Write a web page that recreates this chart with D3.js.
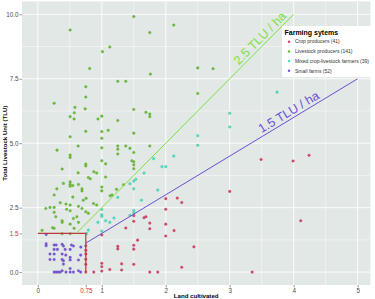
<!DOCTYPE html>
<html>
<head>
<meta charset="utf-8">
<script src="https://cdnjs.cloudflare.com/ajax/libs/d3/7.8.5/d3.min.js"></script>
<style>
    body { margin: 0; background: #fff; }
    svg { display: block; font-family: "Liberation Sans", Arial, sans-serif; }
    .tick text { fill: #4d4d4d; font-size: 6.3px; }
    .tick line { stroke: #333; stroke-width: 0.5; }
    .grid.major { stroke: #fff; stroke-width: 0.9; }
    .grid.minor { stroke: #fff; stroke-width: 0.45; }
    .title { font-weight: bold; font-size: 6.1px; fill: #000; }
    .legend text { font-size: 5px; fill: #333; }
</style>
</head>
<body>
<svg id="chart" width="375" height="299"></svg>
<script>
// farming groups, in legend order
const groups = ["Crop producers (41)", "Livestock producers (141)", "Mixed crop-livestock farmers (39)", "Small farms (52)"];
const groupColors = ["#d9466b", "#6dbf3b", "#4ee0c2", "#7b58d9"];

// land cultivated (ha), TLU
const cropProducers = [
    [3.35, 0.0], [2.25, 0.19], [2.44, 0.98], [2.13, 1.61], [2.25, 2.70], [2.18, 2.87], [3.0, 3.13],
    [3.49, 4.37], [3.99, 4.31], [4.24, 4.53], [4.11, 1.99], [2.0, 2.85], [2.0, 2.44], [1.5, 2.19],
    [1.5, 1.97], [1.66, 2.11], [1.69, 2.15], [1.75, 1.90], [1.75, 1.68], [2.0, 1.86], [2.0, 1.40],
    [1.56, 1.24], [1.5, 1.04], [1.5, 0.89], [1.5, 0.30], [1.75, 0.0], [1.875, 0.0], [1.375, 1.71],
    [1.0, 1.44], [1.25, 1.0], [1.25, 0.90], [1.31, 0.32], [1.0, 0.21], [1.0, 0.04], [1.125, 0.10],
    [1.31, 0.08], [0.875, 0.0], [1.0, 0.34], [0.75, 1.02], [0.75, 0.85], [0.75, 0.7], [0.75, 0.5],
    [0.75, 0.3], [0.75, 0.0]
];
const livestockProducers = [
    [0.505, 9.39], [1.01, 8.55], [0.81, 7.90], [0.75, 7.19], [0.75, 6.79], [0.255, 6.55], [0.58, 6.39],
    [0.57, 6.18], [0.74, 6.33], [0.505, 6.03], [0.567, 5.94], [1.0, 6.05], [0.94, 5.94], [0.75, 5.46],
    [1.0, 5.45], [1.0, 5.19], [0.505, 5.25], [0.63, 4.89], [0.3, 4.73], [1.0, 4.82],
    [1.5, 9.91], [1.75, 9.29], [2.125, 9.58], [1.125, 8.73], [1.76, 7.68], [1.25, 7.40], [1.375, 7.40],
    [1.5, 6.31], [1.69, 6.20], [1.75, 6.13], [1.75, 6.03], [1.25, 5.88], [1.1, 5.50], [1.5, 5.39],
    [1.25, 4.89], [1.25, 4.77], [1.375, 4.89], [1.44, 4.80], [1.75, 4.89],
    [2.5, 7.92], [2.74, 7.89], [2.5, 6.93],
    [1.25, 4.58], [1.5, 4.64], [1.0, 4.32], [1.06, 4.20], [1.47, 4.32], [1.5, 4.28], [1.5, 4.16],
    [1.5, 4.01], [1.06, 3.69], [1.0, 3.30], [1.0, 3.15], [1.23, 3.21], [1.34, 3.39], [1.13, 2.96], [1.16, 2.99],
    [0.505, 4.54], [0.505, 4.45], [0.75, 4.19], [0.75, 4.12], [0.38, 4.0], [0.63, 3.85], [0.875, 3.89],
    [0.92, 3.84], [0.79, 3.67], [0.82, 3.62], [0.505, 3.50], [0.505, 3.41], [0.505, 3.33], [0.547, 3.36],
    [0.4, 3.44], [0.635, 3.40], [0.69, 3.23], [0.69, 3.15], [0.297, 3.23], [0.255, 2.99], [0.547, 2.91],
    [0.71, 2.79], [0.755, 2.86], [0.35, 2.69], [0.44, 2.64], [0.505, 2.60], [0.87, 2.66], [0.92, 2.60],
    [0.635, 2.55], [0.69, 2.47], [0.125, 2.47], [0.19, 2.51], [0.255, 2.51], [0.45, 2.44], [0.505, 2.38],
    [0.255, 2.32], [0.28, 2.15], [0.75, 2.34], [0.79, 2.28], [0.61, 2.15], [0.556, 2.08], [0.38, 1.99],
    [0.38, 1.93], [0.505, 1.86], [0.635, 1.93], [0.23, 1.72], [0.255, 1.70], [0.067, 1.62], [0.567, 1.70],
    [0.38, 1.49], [0.505, 1.49]
];
const mixedFarmers = [
    [3.0, 6.16], [3.0, 5.63], [2.5, 5.29], [2.5, 4.92], [3.74, 6.98], [2.125, 4.50], [1.81, 4.40],
    [1.94, 4.09], [2.0, 4.09], [1.66, 3.84], [1.53, 3.60], [1.5, 3.53], [1.44, 3.43], [1.5, 3.23],
    [1.875, 3.18], [1.25, 2.90], [1.62, 2.79], [1.0, 2.43], [1.0, 2.22], [1.0, 2.16], [1.5, 2.39],
    [1.5, 2.29], [1.44, 2.20], [1.06, 1.99], [1.125, 1.93], [1.19, 2.10], [1.0, 1.59], [0.94, 1.93],
    [0.79, 1.63], [0.765, 1.50]
];
const smallFarms = [
    [0.13, 1.46], [0.13, 1.10], [0.13, 1.02], [0.255, 1.05], [0.286, 1.05], [0.38, 1.08], [0.4, 1.01],
    [0.525, 1.05], [0.556, 1.01], [0.505, 0.88], [0.306, 0.88], [0.255, 0.88], [0.427, 0.88], [0.672, 0.97],
    [0.19, 0.70], [0.255, 0.70], [0.38, 0.70], [0.437, 0.66], [0.505, 0.57], [0.67, 0.66], [0.19, 0.49],
    [0.255, 0.49], [0.38, 0.49], [0.4, 0.44], [0.505, 0.47], [0.635, 0.47], [0.4, 0.31], [0.255, 0],
    [0.286, 0], [0.317, 0], [0.35, 0], [0.38, 0.05], [0.505, 0.14], [0.505, 0], [0.556, 0], [0.635, 0.05],
    [0.67, 0], [0.44, 0]
];

// tick labels
const xTicks = [0, 0.75, 1, 2, 3, 4, 5];
const yTicks = [0, 1.5, 2.5, 5, 7.5, 10];
const xGrid = [0, 1, 2, 3, 4, 5];
const yGrid = [0, 2.5, 5, 7.5, 10];
const xMinor = [0.5, 1.5, 2.5, 3.5, 4.5];
const yMinor = [1.25, 3.75, 6.25, 8.75];

// reference lines: TLU per ha, start and end on x
const densityLines = [
    {label: "2.5 TLU / ha", rate: 2.5, from: 0.6, to: 4, color: "#80e044", labelAt: 3.55},
    {label: "1.5 TLU / ha", rate: 1.5, from: 0.75, to: 5, color: "#6b4fd3", labelAt: 3.98}
];
// the small-farm cut-off corner
const cutLand = 0.75;
const cutTLU = 1.5;

const margin = {top: 1.4, right: 4.7, bottom: 14, left: 22};
const width = 375 - margin.left - margin.right;
const height = 299 - margin.top - margin.bottom;

const x = d3.scaleLinear().domain([-0.2475, 5.1975]).range([0, width]);
const y = d3.scaleLinear().domain([-0.5, 10.5]).range([height, 0]);

const svg = d3.select("#chart");
const chart = svg.append("g").attr("transform", "translate(" + margin.left + "," + margin.top + ")");

chart.append("rect").attr("width", width).attr("height", height).attr("fill", "#e2e8e5");

chart.selectAll(".grid.minor.x").data(xMinor).enter().append("line")
    .attr("class", "grid minor x")
    .attr("x1", d => x(d)).attr("x2", d => x(d)).attr("y1", 0).attr("y2", height);
chart.selectAll(".grid.minor.y").data(yMinor).enter().append("line")
    .attr("class", "grid minor y")
    .attr("y1", d => y(d)).attr("y2", d => y(d)).attr("x1", 0).attr("x2", width);
chart.selectAll(".grid.major.x").data(xGrid).enter().append("line")
    .attr("class", "grid major x")
    .attr("x1", d => x(d)).attr("x2", d => x(d)).attr("y1", 0).attr("y2", height);
chart.selectAll(".grid.major.y").data(yGrid).enter().append("line")
    .attr("class", "grid major y")
    .attr("y1", d => y(d)).attr("y2", d => y(d)).attr("x1", 0).attr("x2", width);

// axes
let xAxis = chart.append("g").attr("transform", "translate(0," + height + ")")
    .call(d3.axisBottom(x).tickValues(xTicks).tickSize(2.5).tickPadding(1)
        .tickFormat(d => d === cutLand ? "0.75" : d3.format("d")(d)));
let yAxis = chart.append("g")
    .call(d3.axisLeft(y).tickValues(yTicks).tickSize(2.5).tickPadding(1).tickFormat(d3.format(".1f")));
xAxis.select(".domain").remove();
yAxis.select(".domain").remove();
xAxis.selectAll(".tick text").attr("font-size", null).attr("font-family", null)
    .style("fill", d => d === cutLand ? "#e0282d" : null);
yAxis.selectAll(".tick text").attr("font-size", null).attr("font-family", null)
    .style("fill", d => d === cutTLU ? "#e0282d" : null);

// points
const series = [cropProducers, livestockProducers, mixedFarmers, smallFarms];
series.forEach((pts, i) => {
    chart.append("g").selectAll("circle").data(pts).enter().append("circle")
        .attr("cx", d => x(d[0]))
        .attr("cy", d => y(d[1]))
        .attr("r", 1.3)
        .attr("fill", groupColors[i])
        .attr("stroke", d3.color(groupColors[i]).darker(0.6))
        .attr("stroke-width", 0.3);
});

// cut-off corner
chart.append("path")
    .attr("d", d3.line()([[x(0), y(cutTLU)], [x(cutLand), y(cutTLU)], [x(cutLand), y(0)]]))
    .attr("fill", "none").attr("stroke", "#b8383c").attr("stroke-width", 1.2);

// TLU per ha lines with labels
densityLines.forEach(l => {
    chart.append("line")
        .attr("x1", x(l.from)).attr("y1", y(l.from * l.rate))
        .attr("x2", x(l.to)).attr("y2", y(l.to * l.rate))
        .attr("stroke", l.color).attr("stroke-width", 1);
    let angle = Math.atan2(y(l.rate) - y(0), x(1) - x(0)) * 180 / Math.PI;
    chart.append("text")
        .attr("transform", "translate(" + x(l.labelAt) + "," + y(l.labelAt * l.rate) + ") rotate(" + angle + ")")
        .attr("dy", -3)
        .attr("text-anchor", "middle")
        .attr("font-size", 12.5)
        .attr("fill", l.color)
        .text(l.label);
});

// axis titles
svg.append("text").attr("class", "title")
    .attr("x", margin.left + width / 2).attr("y", 297.8)
    .attr("text-anchor", "middle").text("Land cultivated");
svg.append("text").attr("class", "title")
    .attr("transform", "translate(6.6," + (margin.top + height / 2) + ") rotate(-90)")
    .attr("text-anchor", "middle").text("Total Livestock Unit (TLU)");

// legend
let legend = svg.append("g").attr("class", "legend").attr("transform", "translate(282,26)");
legend.append("rect").attr("width", 93).attr("height", 51).attr("fill", "#fff");
legend.append("text").attr("x", 2.5).attr("y", 8.8)
    .attr("font-weight", "bold").style("font-size", "7px").style("fill", "#000").text("Farming sytems");
let items = legend.selectAll(".item").data(groups).enter().append("g")
    .attr("class", "item")
    .attr("transform", (d, i) => "translate(0," + (15.7 + i * 9.7) + ")");
items.append("circle").attr("cx", 7).attr("r", 1.25)
    .attr("fill", (d, i) => groupColors[i]);
items.append("text").attr("x", 13).attr("dy", "0.35em").text(d => d);
</script>
</body>
</html>
